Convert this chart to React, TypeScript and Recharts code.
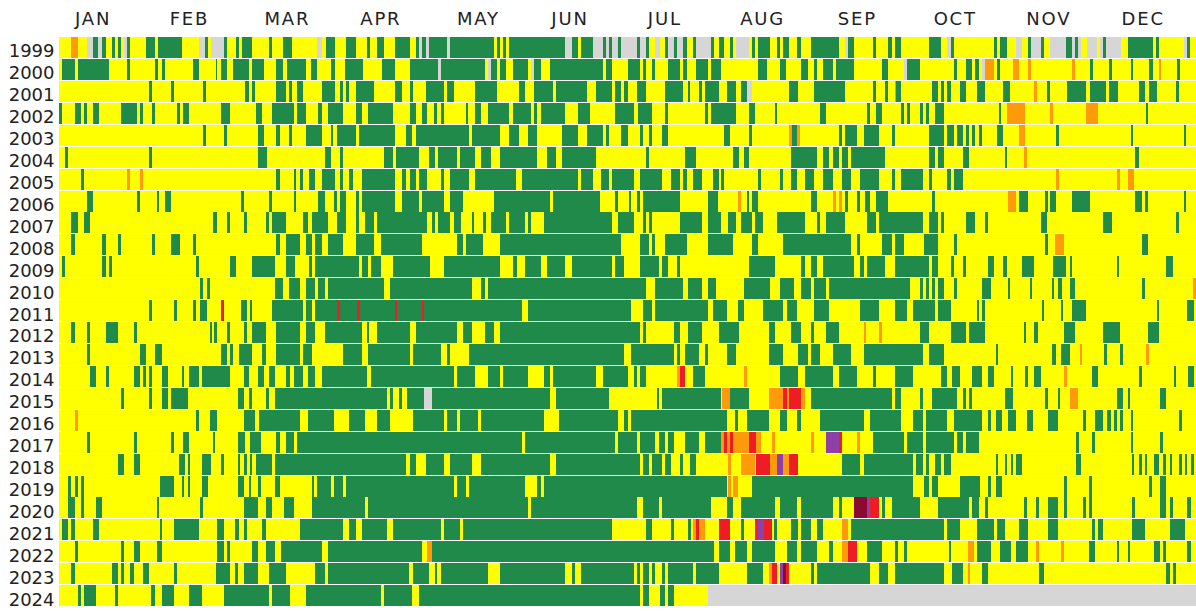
import { BarChart, Bar, XAxis, YAxis, Cell } from 'recharts'

// [first day, last day, category], category defaults to good
type Run = [number, number, string?]

const months = ['JAN', 'FEB', 'MAR', 'APR', 'MAY', 'JUN', 'JUL', 'AUG', 'SEP', 'OCT', 'NOV', 'DEC']
const monthTicks = [11, 42, 73.5, 103.6, 135, 164.5, 195, 226.5, 257, 288.5, 318.6, 349]

const y1999: Run[] = [[4,6,'o'],[9,11.5,'n'],[11,12.5],[12.5,14,'n'],[14,15],[17,18],[19,20],[21,22,'n'],[22,23],[28,31],[32,39.5],[45,47,'n'],[47,48],[49,53,'n'],[53,54],[57,58],[59,62],[67.5,68.5],[72,75],[83,84.5,'n'],[86,89],[92.5,95.5],[99,100],[102.5,104.5],[108,113],[115,116],[116,117,'n'],[117,118],[118,119,'n'],[119,125],[125,126,'n'],[126,140],[141,142],[143,144],[145,163],[163,165,'n'],[165,167],[168,172],[172,175,'n'],[175,176],[176,177,'n'],[177,178],[178,180,'n'],[180,181],[181,186,'n'],[186,187],[187,189,'n'],[189,190],[192,193.5,'n'],[195,196],[196,198,'n'],[198,199],[199,201,'n'],[201,202],[204,205],[205,210,'n'],[210,211],[212.5,214],[216,217],[218,222,'n'],[223,224],[225,229],[231,232],[233,235],[237.7,239],[242,251],[253,254,'n'],[254,256],[262,263],[267,268],[269,271],[280,284],[286,287,'n'],[287,288],[301,302],[303,305],[308,310,'n'],[312,313],[313,316,'n'],[316,317],[319,324,'n'],[324,326],[326,327,'n'],[327,328],[328,329,'n'],[331,334,'n'],[335,336,'n'],[336,337],[337,342,'n'],[344,352],[353,354],[362,363,'n'],[363,364]]
const y2000: Run[] = [[1,5],[6,16],[22,23],[31,32],[33,34],[43,45],[50.5,51],[52,54],[56,61],[62,66],[70,72],[73.5,79.5],[81,83],[87.5,89],[92,98],[104,108],[113,122],[122,123,'n'],[123,137],[138,139,'n'],[139,141],[142,144],[146,151],[152,153,'n'],[153,155],[158,175],[176,178],[183,187],[188,189],[191,192],[196,200],[201,202],[205,209],[210,213],[225,228],[232,234],[239,241],[243,244],[246,249],[250,256],[265,267],[272,273,'n'],[273,277],[288,289],[292,294],[295,296],[297,298,'n'],[298,301,'o'],[302,303],[307,309,'o'],[312,313,'o'],[326,327,'o'],[332,333],[338,339],[345,345.7],[351,352],[354,354.7,'o'],[360,361]]
const y2001: Run[] = [[29,30],[36,37],[46.5,47.2],[60,61],[62,63],[70,73],[74,75],[76.5,78.5],[84.5,89],[90.5,91.5],[92.5,93.5],[95.5,101.5],[108,110.5],[113,114],[118,124],[125,127],[134,141],[148,150],[153,159],[160,170],[173,178],[179,181],[182,183],[186,189],[195,201],[202.5,203],[206,207],[208,212.5],[215,218],[219.5,221.5],[221.5,223,'n'],[235,238],[243,253],[262,263],[266,267],[269,269.5,'o'],[269.5,271],[281,283],[284,285],[286,287],[290,292],[295.5,298],[304,306],[314,314.7,'o'],[318,319],[324.5,330.5],[332,337],[338,341],[347.5,349.5],[351,353.5],[359.5,360.5]]
const y2002: Run[] = [[0,1],[5,7],[8,9],[11,13],[20,25],[26,27],[30,31],[38,39],[40,42],[52,55],[63.5,65.5],[68.5,75.5],[76.5,79.5],[83.5,84.5],[86.5,91.5],[95.5,97.5],[99.5,107.5],[113,115],[117,118.5],[120.7,121.6],[123,124],[131,131.7],[134,136],[138,145],[146,152],[153,154],[155,163],[167,171],[179,185],[186.5,191],[195,196],[208,209],[210,218],[222,224],[230.6,231.2],[245,247],[260,261],[263,265],[271,272],[273,274],[277,278],[279,280],[282,285],[302.5,303.2],[305,311,'o'],[319,320,'o'],[330.5,334.5,'o'],[350,350.7]]
const y2003: Run[] = [[46.5,47.2],[53,54],[64,66],[70,71],[74,75],[79.5,84.5],[87.5,88.2],[89.5,95.5],[96.5,108],[111.6,113.7],[115,132],[133,142],[145,148],[151,154],[162,167],[170,175],[176,177],[181,183],[187,188],[190,191],[194,196],[214,216],[222,223],[235,236,'o'],[236,237.5],[237.5,238.5,'o'],[251,252],[253,257],[259,264],[268,269],[280,285],[286,288],[289,291],[292,293],[294,295],[296,297],[302,304],[309,311,'o'],[321,322],[345,345.7],[362,362.7]]
const y2004: Run[] = [[2,3],[29,30],[64,67],[85.5,87.5],[90.5,91.5],[104.5,107.5],[108.5,116],[119,121],[122,128],[129,134],[136,139],[142,154],[157,160],[162,173],[189,190],[201.5,205],[217,219],[220.5,222],[235.5,244],[246,248],[249,251],[252,254],[255,266],[280,282],[283,285],[291,293],[304.5,305.2],[310.5,311.5,'o'],[346.5,347.5]]
const y2005: Run[] = [[7,8],[22,23,'o'],[26,27,'o'],[70,71],[75.5,76.2],[77.5,78.5],[80.5,82.5],[84.5,89],[90.5,91.5],[93.5,94.5],[97.5,108],[110.5,111.6],[113,115],[116,118.5],[123,124],[126,132],[134,147],[149,167],[168,172],[174.5,177],[178,185],[187,194],[197,200],[201,202],[204,207],[210.5,212.5],[213,214],[225,226],[232,233],[235.5,237.5],[240,243],[246,249],[252,255],[258,264],[268,269],[271,278],[280,281],[286,287],[288,291],[321,322,'o'],[340.5,341.5,'o'],[344,346,'o']]
const y2006: Run[] = [[9,11],[25,26],[31.5,32.2],[34,36],[58.5,59.5],[67.5,68.5],[75.5,76.2],[83.5,85.5],[88.5,89.5],[90.5,92.5],[95.5,96.5],[97.5,108],[110.5,116],[117,124],[126,130],[140,158],[159,174],[179,180],[183.5,184.2],[186,187],[188,200],[209,212],[218.5,219.5,'o'],[221.5,222.2],[223,225],[242,244],[249,250,'o'],[251,252,'o'],[253,254],[257,258],[259.5,261],[263,267],[281,282],[305.5,308,'o'],[309,312],[317.5,318.2],[319,321],[326,332],[346.5,348.5],[349.5,350.5],[362,362.7]]
const y2007: Run[] = [[4,6],[8,10],[49.5,51],[54,55],[59.5,60.5],[66.5,67.5],[68.5,73],[78.5,80],[81.5,86.5],[89.5,92.5],[95.5,96.5],[98.5,101.5],[102.5,118.5],[120,121],[122,126],[127,129.5],[133,133.7],[136.5,137.5],[139,144],[145,150],[151,152],[156,178],[180,185],[188,189],[190,191],[200,207],[209,213],[215.5,218],[219.5,223],[224,226.5],[231,240],[244,245],[247,253],[260,263],[264,278],[280,283],[284,285],[292,295],[298,299],[316,318],[336,339],[359.5,360.5]]
const y2008: Run[] = [[4,5],[14,15],[19,20],[30,31],[36,39],[43,44],[70,71],[73,77.5],[79.5,81.5],[82.5,84.5],[86.5,91.5],[95.5,101.5],[103.5,117],[128,130],[131,136.5],[142,181],[187,190],[191,192],[195,202],[209,217],[223,225],[233,255],[257,258],[265,268],[269,272],[278.5,283],[288,289],[317.5,318.5],[320.5,323.5,'o'],[348.5,350.5]]
const y2009: Run[] = [[1,2],[14,15],[16,17],[44,45],[55,57],[62,69.5],[73,76],[80.5,81.5],[82.5,96.5],[97.5,99.5],[100.5,103.5],[107.5,119.5],[124,142],[146,147.5],[150,155],[157,163],[165,178],[179,182],[187,193],[194,196],[199,200],[222,230.5],[239,240],[242,244],[246,256],[258,259],[260,266],[269,280],[281,283],[287,288],[291,292],[299,301],[304,305],[310,314],[320,324],[325.5,326.2],[340.5,341.2],[356.5,358.5]]
const y2010: Run[] = [[45.5,46.2],[47.5,48.5],[69.5,72],[74,77.5],[79.5,82.5],[83.5,85.5],[86.5,104.5],[106.5,133],[136,137],[138,189],[192,201],[202.5,207],[209,211.5],[220.5,229],[232,236.5],[239,242],[243,247],[248,274],[277,278],[279,280],[281,282],[283,285],[288,289],[297,300],[305.5,306.2],[312.5,313.2],[319.5,320.2],[321.5,323],[325.5,327],[348.5,349.5],[365,366,'o']]
const y2011: Run[] = [[29,30],[37,38],[43,44],[45.5,47.5],[52,53,'r'],[58.5,60.5],[61.5,62.2],[68.5,78.5],[79.5,81.5],[82.5,149],[151,184],[188,191],[192,209],[210.5,215],[218.5,220.5],[226.5,233],[234.5,237.5],[243,248],[258,264],[269,273],[275,282],[283,287],[295.5,296.2],[297,298],[316.5,317.2],[322.5,323.2],[326,330.5],[353.5,354.2],[363,365.5],[89.5,90.5,'r'],[96,96.8,'r'],[108,108.7,'r'],[117,117.6,'r']]
const y2012: Run[] = [[4,5],[9,10],[15,19],[24,25],[48.5,49.2],[50,51],[54,55],[59.5,60.5],[62,66.5],[70,77.5],[79.5,82.5],[85.5,97.5],[99,99.7],[102.5,113],[115,128],[130,133],[137,140],[142,187],[188,189],[198,200],[202.5,207],[212.5,219],[228.5,230.5],[235.5,239],[242,243],[247,251],[259,259.7,'o'],[264,265,'o'],[277,280],[287,292],[293,298],[310.5,311.2],[314,315],[323.5,327],[336,341.5],[350.5,354]]
const y2013: Run[] = [[9,10],[26,28],[31,33],[52,54],[55,56],[58,62],[65.5,66.5],[70,77.5],[78.5,81.5],[91.5,97.5],[99.5,113],[114,123],[125,126],[132,182],[184,198],[199,200],[201.5,206],[208,209],[215,218],[228.5,233],[238,241],[242,245],[249,255],[259,278],[280,285],[301.5,302.2],[319.5,321],[322.5,325.5],[328.5,329.2,'o'],[336.5,337.2],[341.5,342.5],[350,350.8,'o']]
const y2014: Run[] = [[10,12],[15,16],[24,26],[27,28],[29,30],[33,35],[39.5,40.2],[42,45],[46,55],[59.5,61],[64,66],[67.5,69.5],[73,74.5],[75.5,78.5],[80,82.5],[84.5,99],[100.5,127],[128,134],[138,142],[143,151],[156,158],[159,173],[175,183],[185,186],[187,189],[199,200,'o'],[200,201.5,'r'],[204,208],[220.5,221.5,'o'],[232,238],[240,249],[251,257],[262,263],[269,275],[284,286],[287.5,290],[294,297],[299,301],[306.5,307.2],[311,312],[314,316],[323.5,324.5,'o'],[332.5,334.5],[347.5,348.5],[359,359.7],[363.5,365.5]]
const y2015: Run[] = [[20,21],[29,30],[33,35],[36,41.5],[57.5,59.5],[61,62],[66.5,67.5],[69.5,105.5],[106.5,107.5],[109.5,110.5],[112,117.5],[117.5,120,'n'],[120,158],[160,177],[192.5,193.2],[194,213],[213.5,216,'o'],[216,222],[228.5,233,'o'],[233,234.5,'r'],[234.5,235,'o'],[235,239,'r'],[239,240,'o'],[242,268],[269,271],[277,278],[281,289],[291,292],[293,294],[304.5,307],[317.5,318.5],[321.5,322.2],[325.5,328,'o'],[340.5,342.5],[344,344.7],[354.5,356.5]]
const y2016: Run[] = [[5,6,'o'],[44,45],[48.5,51],[59.5,63],[64.5,77.5],[80,88.5],[93.5,98.5],[102.5,106.5],[114,124],[125,128],[129,135],[136,156],[161,180],[182,183],[184,215],[217.5,218.5],[221.5,228.5],[232,234.5],[237.5,239],[245,259],[261,271],[275,278],[279,286],[288,297],[299,300],[301.5,303.5],[305.5,308],[311.5,313.5],[318.5,321.5],[329.5,330.5],[333.5,336],[337.5,338.5],[339.5,340.5],[341.5,342.5],[345,345.7],[360.5,361.5]]
const y2017: Run[] = [[9,10],[24,25],[36,37],[40,42],[49.5,50.2],[57.5,60],[61.5,65],[70,71],[73,75.5],[76.5,149],[150,179],[180,186],[187,192],[193,195],[196,198],[201.5,206],[208,213],[213,214,'o'],[214,215,'r'],[215,216,'o'],[216,217,'r'],[217,222,'o'],[222,224.5,'r'],[224.5,226,'o'],[229.5,230.5,'o'],[242,243,'o'],[247,251,'p'],[251,252,'r'],[257,258,'o'],[262,272],[273,278],[279,288],[289,291],[292,296],[327.5,328.2],[332.5,333.5],[345,345.7],[354.5,355.5]]
const y2018: Run[] = [[19,21],[24,26],[38.5,40.5],[41.5,42.2],[46,49],[52,53],[57.5,58.2],[59.5,60.5],[61.5,62.2],[63.5,68.5],[69.5,111.6],[113,115],[118,124],[126,133],[136,158],[160,187],[188,190],[191,194],[195,197],[200,201],[203,205],[215.5,216.2,'o'],[219.5,224,'o'],[224.5,229,'r'],[229,231,'o'],[231,233,'p'],[233,235,'o'],[235,238,'r'],[252,258],[259,275],[276,278],[279,280],[282,284],[285,287],[301.5,302.2],[304.5,305.2],[306.5,307.2],[308,310],[327.5,329],[345.5,346.2],[347.5,348.5],[349.5,350.2],[352.5,354],[355.5,356.2],[357.5,358.2],[360.5,361.5],[362.5,363.2],[364.5,365.2]]
const y2019: Run[] = [[3,4],[5,6],[7,8],[32.5,37],[39.5,40.2],[41.5,42.2],[46,48],[57.5,59.5],[61,61.7],[64,65],[69.5,71],[81.5,82.2],[83,87.5],[88.5,91.5],[92.5,127],[128,131],[132,150],[154,155],[156,215],[215.5,216.2,'o'],[217,218.5,'o'],[223,275],[278.5,280],[281,283],[290,296.5],[299,300],[301.5,303.5],[323.5,324.5],[331.5,332.5],[351,351.7],[354.5,356.5]]
const y2020: Run[] = [[3,5],[7,8],[12,14],[31.5,32.2],[45.5,46.2],[59.5,64],[66.5,68.5],[72.5,75.5],[81.5,98.5],[99.5,151],[152,186],[188,193],[194,210],[215,217],[219.5,230.5],[232,237.5],[239,249],[251,252],[256,260,'m'],[260,261,'p'],[261,264,'r'],[265,266],[268,277],[283,293],[294,296],[298,299],[310.5,311.5],[314.5,315.5],[318.5,321.5],[323.5,324.5],[329.5,330.5],[331.5,332.5],[345.5,346.5],[354.5,356.5],[357.5,358.5],[363,364.5]]
const y2021: Run[] = [[1,3],[4,5],[11,13],[32.5,33.2],[37,45],[51,53],[56.5,58],[59.5,60.5],[65.5,66.5],[77.5,91.5],[93.5,95.5],[97.5,105.5],[107.5,123],[124,129],[130,178],[189,191],[197,198],[202.5,203.5],[204,205,'o'],[205,206,'r'],[206,208,'o'],[212.5,216,'r'],[219.5,220.5],[224,225,'r'],[225,227,'p'],[227,229.5,'r'],[230,231],[235.5,238],[239,242],[244,246],[252,254,'o'],[255,285],[286,290],[295.5,301],[302,304.5],[309,312],[318.5,321.5],[332.5,333.5],[334.5,336],[345.5,349.5],[357.5,362.5]]
const y2022: Run[] = [[5,6],[20,21],[24,26],[31.5,33],[51,53],[54,55],[62,64],[66.5,69.5],[71.5,84.5],[86.5,117],[118.5,120,'o'],[120,211],[212.5,216],[217.5,221.5],[223,230.5],[234.5,237.5],[239,244],[248,249],[252,254,'o'],[254,257,'r'],[260,265],[269,270],[272,273],[286.5,287.2],[292.5,294.5,'o'],[295.5,300],[303,306.5],[308,312],[314.5,315.5,'o'],[322.5,323.5,'o'],[331.5,333.5],[340.5,341.2],[344,344.7],[352.5,354.5],[355.5,356.5],[363,364.5]]
const y2023: Run[] = [[4,5],[17,19],[20,21],[23,24],[27,29],[37,38],[50.5,55],[56.5,57.5],[59.5,64],[67.5,73],[82.5,85.5],[86.5,112.7],[114,119],[121,121.7],[123,138],[142,163],[165,166],[168,185],[186,187],[188,190],[191,192],[194,195],[196,204],[205,212.5],[221.5,226.5],[228.5,229.5,'o'],[229.5,231,'r'],[232,233,'p'],[233,234,'m'],[234,235,'r'],[242,243],[244,261],[264,267],[269,285],[287.5,291],[292.5,293.2,'o'],[297,299],[315.5,317],[356.5,357.5],[358.5,359.5]]
const y2024: Run[] = [[6,7],[8,12],[18,19],[29.5,31],[33,37],[42,46],[53,67.5],[68.5,74.5],[79.5,103.5],[104.5,113.7],[116,187],[188,190],[193.5,195],[196,198],[209,366,'n']]

const years = [
  [1999, y1999], [2000, y2000], [2001, y2001], [2002, y2002], [2003, y2003], [2004, y2004],
  [2005, y2005], [2006, y2006], [2007, y2007], [2008, y2008], [2009, y2009], [2010, y2010],
  [2011, y2011], [2012, y2012], [2013, y2013], [2014, y2014], [2015, y2015], [2016, y2016],
  [2017, y2017], [2018, y2018], [2019, y2019], [2020, y2020], [2021, y2021], [2022, y2022],
  [2023, y2023], [2024, y2024],
] as [number, Run[]][]

const colors: Record<string, string> = {
  g: '#1f8a4a', y: '#ffff00', o: '#ff9a0a', r: '#ee1c25',
  p: '#8e3fa8', m: '#8a0a30', n: '#d6d6d6',
}

// split a year into consecutive pieces, later runs paint over earlier ones
function toPieces(runs: Run[]) {
  const cuts = [...new Set([0, 366, ...runs.flatMap(r => [r[0], r[1]])])].sort((a, b) => a - b)
  const pieces: { len: number; cat: string }[] = []
  for (let i = 0; i < cuts.length - 1; i++) {
    const mid = (cuts[i] + cuts[i + 1]) / 2
    let cat = 'y'
    for (const r of runs) if (r[0] <= mid && mid < r[1]) cat = r[2] ?? 'g'
    const last = pieces[pieces.length - 1]
    if (last && last.cat === cat) last.len += cuts[i + 1] - cuts[i]
    else pieces.push({ len: cuts[i + 1] - cuts[i], cat })
  }
  return pieces
}

const pieces = years.map(([, runs]) => toPieces(runs))
const maxPieces = Math.max(...pieces.map(p => p.length))
const slots = Array.from({ length: maxPieces }, (_, i) => i)

const data = years.map(([year], row) => {
  const out: Record<string, number> = { year }
  pieces[row].forEach((p, i) => { out[`s${i}`] = p.len })
  return out
})

function YearTick({ x, y, payload }: any) {
  return (
    <text x={x + 5.5} y={y + 10} textAnchor="end" fontSize={18} fill="#222" fontFamily="DejaVu Sans">
      {payload.value}
    </text>
  )
}

export default function App() {
  return (
    <div style={{ position: 'absolute', left: 0, top: 0, width: 1196, height: 611, background: '#fff' }}>
      <BarChart
        width={1196} height={611} data={data} layout="vertical"
        margin={{ top: 0, right: 0, bottom: 4.5, left: 0 }}
        barCategoryGap={0.6}
      >
        <XAxis
          type="number" orientation="top" domain={[0, 366]} height={36.5}
          ticks={monthTicks} interval={0} axisLine={false} tickLine={false}
          tickFormatter={(v: number) => months[monthTicks.indexOf(v)]}
          tick={{ fontSize: 18, fill: '#222', fontFamily: 'DejaVu Sans', letterSpacing: 1.8 }}
          tickMargin={6}
        />
        <YAxis
          type="category" dataKey="year" width={59} interval={0}
          axisLine={false} tickLine={false} tick={<YearTick />} tickMargin={4}
        />
        {slots.map(i => (
          <Bar
            key={i} dataKey={`s${i}`} stackId="a" isAnimationActive={false}
            shapeRendering="crispEdges"
          >
            {pieces.map((p, row) => (
              <Cell key={row} fill={colors[p[i]?.cat ?? 'y']} />
            ))}
          </Bar>
        ))}
      </BarChart>
    </div>
  )
}
